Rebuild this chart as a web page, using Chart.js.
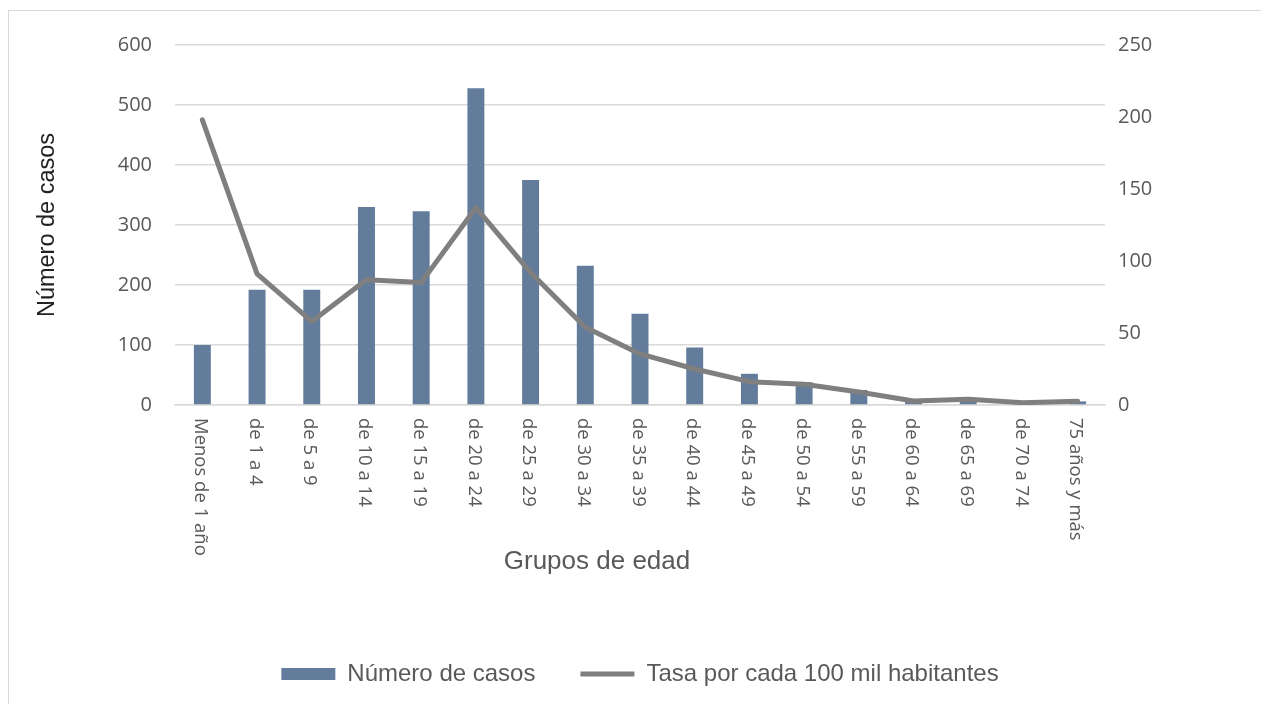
<!DOCTYPE html>
<html>
<head>
<meta charset="utf-8">
<script src="https://cdn.jsdelivr.net/npm/chart.js@4.4.1/dist/chart.umd.min.js"></script>
<style>
  html, body { margin: 0; padding: 0; background: #ffffff; }
  #frame { position: absolute; left: 8px; top: 10px; width: 1300px; height: 800px; border: 1px solid #d9d9d9; box-sizing: border-box; }
  #wrap { position: absolute; left: 0; top: 0; width: 1261px; height: 704px; }
</style>
</head>
<body>
<div id="frame"></div>
<div id="wrap"><canvas id="c" width="1261" height="704"></canvas></div>
<script>
const categories = ["Menos de 1 año", "de 1 a 4", "de 5 a 9", "de 10 a 14", "de 15 a 19", "de 20 a 24", "de 25 a 29", "de 30 a 34", "de 35 a 39", "de 40 a 44", "de 45 a 49", "de 50 a 54", "de 55 a 59", "de 60 a 64", "de 65 a 69", "de 70 a 74", "75 años y más"];
const casos = [100, 192, 192, 330, 323, 528, 375, 232, 152, 96, 52, 38, 25, 5, 7, 3, 6];
const tasa = [198, 91, 58, 87, 85, 137, 92, 54, 35.5, 25, 16.2, 14.4, 9, 2.8, 4, 1.6, 2.6];
const leftTicks = [0, 100, 200, 300, 400, 500, 600];
const rightTicks = [0, 50, 100, 150, 200, 250];
const seriesNames = ["Número de casos", "Tasa por cada 100 mil habitantes"];
const axisTitles = { x: "Grupos de edad", y: "Número de casos" };

const catLabelPlugin = {
  id: 'catLabels',
  afterDraw(chart) {
    const ctx = chart.ctx;
    const xs = chart.scales.x;
    const area = chart.chartArea;
    ctx.save();
    ctx.fillStyle = '#595959';
    ctx.font = '18.5px "Open Sans"';
    ctx.textAlign = 'left';
    ctx.textBaseline = 'middle';
    categories.forEach((lab, i) => {
      const x = xs.getPixelForValue(i);
      ctx.save();
      ctx.translate(x - 2, area.bottom + 13);
      ctx.rotate(Math.PI / 2);
      ctx.fillText(lab, 0, 0);
      ctx.restore();
    });
    ctx.font = '26px "Liberation Sans", Arial, sans-serif';
    ctx.textAlign = 'center';
    ctx.fillText(axisTitles.x, 597, area.bottom + 157);
    ctx.restore();
  }
};

new Chart(document.getElementById('c'), {
  data: {
    labels: categories,
    datasets: [
      {
        type: 'line',
        label: seriesNames[1],
        data: tasa,
        yAxisID: 'y1',
        borderColor: '#7f7f7f',
        backgroundColor: '#7f7f7f',
        borderWidth: 5,
        borderCapStyle: 'round',
        borderJoinStyle: 'round',
        pointRadius: 0,
        pointHoverRadius: 0,
        pointStyle: 'line',
        tension: 0,
        order: 0
      },
      {
        type: 'bar',
        label: seriesNames[0],
        data: casos,
        yAxisID: 'y',
        backgroundColor: '#637c9c',
        borderWidth: 0,
        pointStyle: 'rect',
        barPercentage: 0.31,
        categoryPercentage: 1.0,
        order: 1
      }
    ]
  },
  options: {
    responsive: false,
    animation: false,
    layout: { padding: { top: 45, left: 0, right: 0, bottom: 8 } },
    plugins: {
      tooltip: { enabled: false },
      legend: {
        position: 'bottom',
        fullSize: false,
        reverse: true,
        labels: {
          usePointStyle: true,
          pointStyleWidth: 54,
          boxHeight: 12,
          padding: 45,
          color: '#595959',
          font: { family: '"Liberation Sans", Arial, sans-serif', size: 24 }
        }
      }
    },
    scales: {
      x: {
        type: 'category',
        offset: true,
        grid: { display: false, drawTicks: false },
        border: { display: true, color: '#d9d9d9', width: 1.5 },
        ticks: { display: false },
        afterFit(scale) { scale.height = 212; }
      },
      y: {
        position: 'left',
        min: 0, max: 600,
        afterBuildTicks(scale) { scale.ticks = leftTicks.map(v => ({ value: v })); },
        grid: { color: '#d9d9d9', lineWidth: 1.5, drawTicks: false },
        border: { display: false },
        ticks: {
          padding: 23,
          color: '#595959',
          font: { family: '"Open Sans"', size: 20 }
        },
        title: {
          display: true,
          text: axisTitles.y,
          color: '#222222',
          padding: { top: 33, bottom: 0 },
          font: { family: '"Liberation Sans", Arial, sans-serif', size: 23.5 }
        },
        afterFit(scale) { scale.width = 175; }
      },
      y1: {
        position: 'right',
        min: 0, max: 250,
        afterBuildTicks(scale) { scale.ticks = rightTicks.map(v => ({ value: v })); },
        grid: { display: false, drawTicks: false },
        border: { display: false },
        ticks: {
          padding: 13,
          color: '#595959',
          font: { family: '"Open Sans"', size: 20 }
        },
        afterFit(scale) { scale.width = 156; }
      }
    }
  },
  plugins: [catLabelPlugin]
});
</script>
</body>
</html>
